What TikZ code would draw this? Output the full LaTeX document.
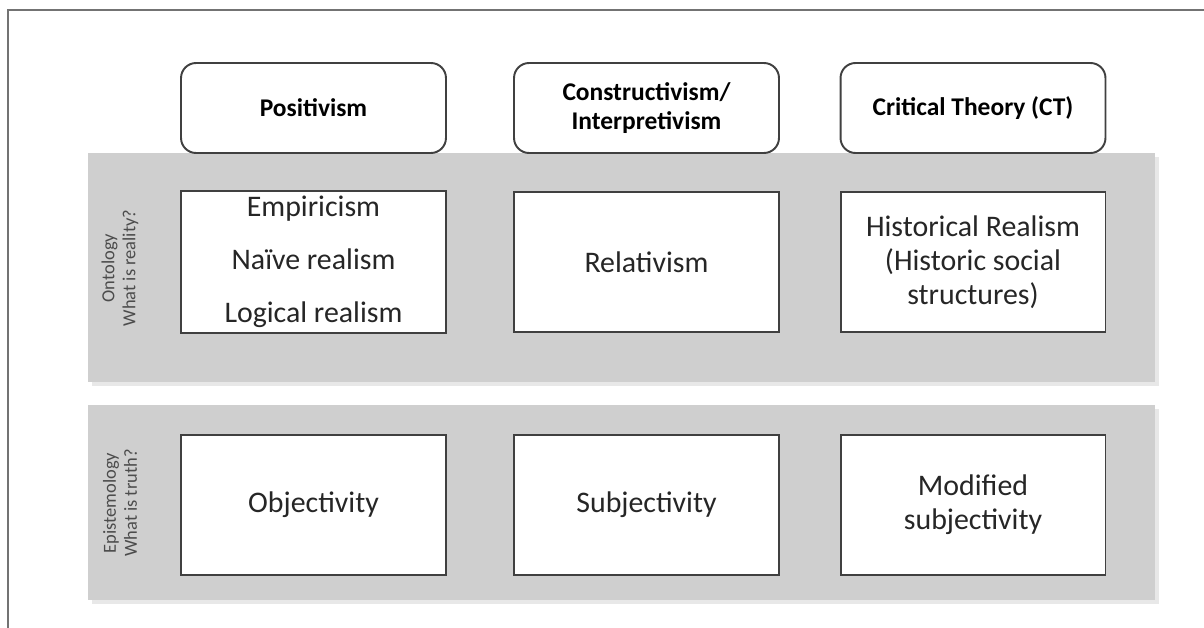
\documentclass[tikz,border=0pt]{standalone}
\usepackage{fontspec}
\setmainfont{Carlito}
\begin{document}
\begin{tikzpicture}[x=0.02cm, y=-0.02cm]
    \tikzset{band/.style={fill=black!19}}
    \tikzset{shade/.style={fill=black!9}}
    \tikzset{head/.style={draw=black!75, line width=1.1pt, fill=white, rounded corners=0.3cm,
        minimum width=5.3cm, minimum height=1.8cm, align=center,
        font=\bfseries\fontsize{14.5}{17}\selectfont}}
    \tikzset{cell/.style={draw=black!75, line width=1.1pt, fill=white,
        minimum width=5.3cm, minimum height=2.8cm, align=center,
        font=\fontsize{17}{19.5}\selectfont, text=black!85}}
    \tikzset{side/.style={rotate=90, align=center, text=black!70,
        font=\fontsize{10.5}{12}\selectfont}}
    \useasboundingbox (0, 0) rectangle (1204, 628);
    % frame
    \draw[black!55, line width=0.7pt] (1204, 10) -- (8, 10) -- (8, 628);
    % grey bands
    \fill[shade] (92, 157) rectangle (1159, 386);
    \fill[band] (88, 153) rectangle (1155, 382);
    \fill[shade] (92, 409) rectangle (1159, 604);
    \fill[band] (88, 405) rectangle (1155, 600);
    % headers
    \node[head] (pos) at (313.5, 108) {Positivism};
    \node[head] (con) at (646.5, 108) {Constructivism/\\Interpretivism};
    \node[head] (crit) at (973, 108) {Critical Theory (CT)};
    % ontology
    \node[side] (ont) at (120, 268) {Ontology\\What is reality?};
    \node[cell, font=\fontsize{17}{30}\selectfont] (ontpos) at (313.5, 262)
        {Empiricism\\Naïve realism\\Logical realism};
    \node[cell] (ontcon) at (646.5, 262) {Relativism};
    \node[cell] (ontcrit) at (973, 262) {Historical Realism\\(Historic social\\structures)};
    % epistemology
    \node[side] (epi) at (120, 503) {Epistemology\\What is truth?};
    \node[cell] (epipos) at (313.5, 505) {Objectivity};
    \node[cell] (epicon) at (646.5, 505) {Subjectivity};
    \node[cell] (epicrit) at (973, 505) {Modified\\subjectivity};
\end{tikzpicture}
\end{document}
